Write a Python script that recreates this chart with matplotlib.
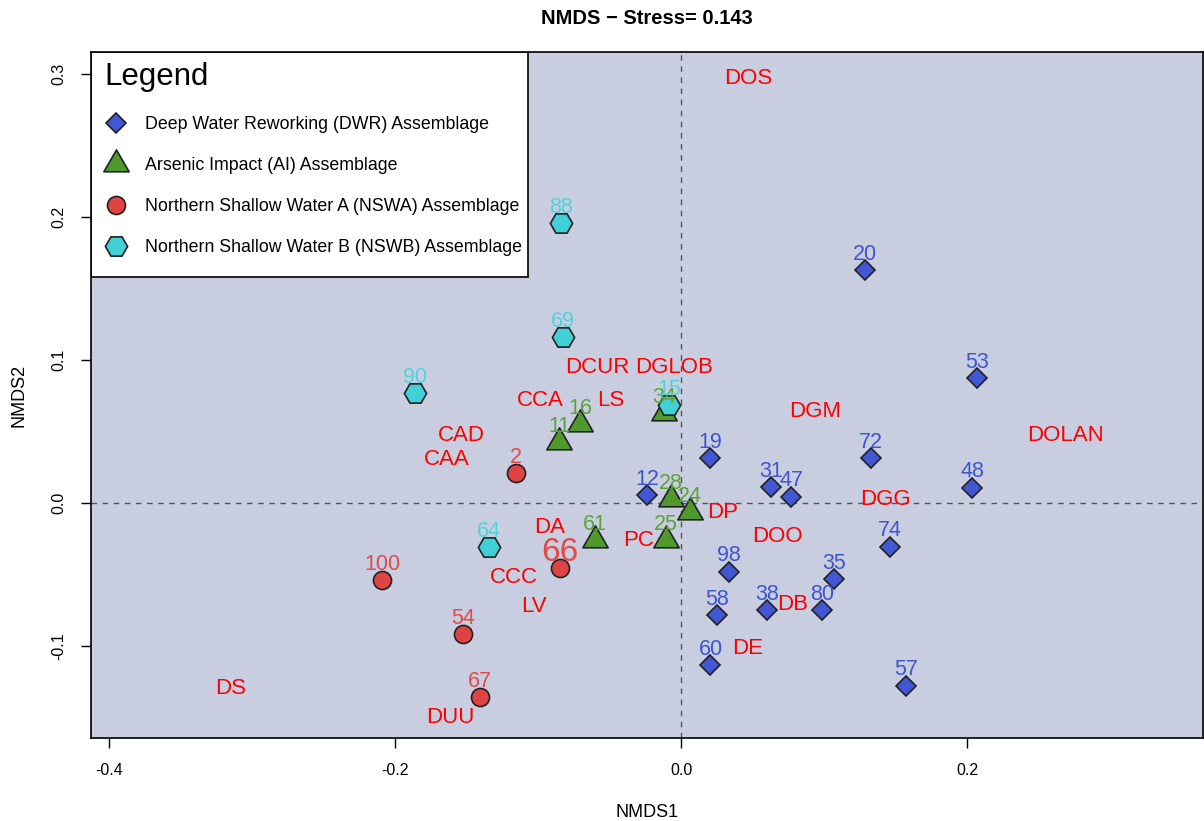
import numpy as np
import matplotlib
matplotlib.use("Agg")
import matplotlib.pyplot as plt
from matplotlib.path import Path
from matplotlib.lines import Line2D
from matplotlib.patches import Rectangle

plt.rcParams["font.family"] = ["Liberation Sans", "DejaVu Sans"]

# Site scores (NMDS1, NMDS2) per assemblage
dwr_ids = ["20", "53", "19", "72", "48", "12", "31", "47", "74", "98", "35", "38", "80", "58", "60", "57"]
dwr_x = [0.1287, 0.2070, 0.0206, 0.1330, 0.2035, -0.0238, 0.0627, 0.0769, 0.1462, 0.0336, 0.1072, 0.0604, 0.0984, 0.0250, 0.0206, 0.1571]
dwr_y = [0.1629, 0.0874, 0.0312, 0.0312, 0.0107, 0.0056, 0.0109, 0.0044, -0.0305, -0.0481, -0.0531, -0.0748, -0.0748, -0.0783, -0.1133, -0.1277]

ai_ids = ["11", "16", "34", "28", "24", "25", "61"]
ai_x = [-0.0853, -0.0706, -0.0119, -0.0070, 0.0063, -0.0105, -0.0601]
ai_y = [0.0427, 0.0552, 0.0629, 0.0028, -0.0063, -0.0259, -0.0259]

nswa_ids = ["2", "66", "100", "54", "67"]
nswa_x = [-0.1154, -0.0846, -0.2091, -0.1524, -0.1406]
nswa_y = [0.0210, -0.0455, -0.0538, -0.0916, -0.1357]

nswb_ids = ["88", "69", "90", "15", "64"]
nswb_x = [-0.0839, -0.0825, -0.1860, -0.0084, -0.1343]
nswb_y = [0.1958, 0.1161, 0.0769, 0.0685, -0.0308]

# Species scores
species = ["DOS", "DCUR", "DGLOB", "CCA", "LS", "DGM", "DOLAN", "CAD", "CAA", "DGG",
           "DP", "DA", "PC", "DOO", "CCC", "LV", "DB", "DE", "DS", "DUU"]
species_x = [0.0469, -0.0587, -0.0049, -0.0986, -0.0490, 0.0937, 0.2685, -0.1538, -0.1636, 0.1427,
             0.0294, -0.0916, -0.0294, 0.0671, -0.1168, -0.1028, 0.0782, 0.0465, -0.3147, -0.1615]
species_y = [0.2972, 0.0951, 0.0951, 0.0720, 0.0720, 0.0643, 0.0469, 0.0469, 0.0301, 0.0025,
             -0.0068, -0.0168, -0.0259, -0.0235, -0.0524, -0.0720, -0.0706, -0.1016, -0.1294, -0.1503]

stress = 0.143

tri = Path([(0, 0.577), (-0.5, -0.289), (0.5, -0.289), (0, 0.577)],
           [Path.MOVETO, Path.LINETO, Path.LINETO, Path.CLOSEPOLY])

groups = [
    ("Deep Water Reworking (DWR) Assemblage", dwr_ids, dwr_x, dwr_y, "D", 9.7, "#4157d3", "#3f55d0"),
    ("Arsenic Impact (AI) Assemblage", ai_ids, ai_x, ai_y, tri, 21, "#4f9a2b", "#5aa33a"),
    ("Northern Shallow Water A (NSWA) Assemblage", nswa_ids, nswa_x, nswa_y, "o", 13, "#e04343", "#e04a4a"),
    ("Northern Shallow Water B (NSWB) Assemblage", nswb_ids, nswb_x, nswb_y, "H", 16, "#40d0d6", "#4fd3db"),
]

fig = plt.figure(figsize=(12.04, 8.21), dpi=100)
ax = fig.add_axes([91 / 1204, 1 - 738 / 821, 1112 / 1204, 686 / 821])
ax.set_facecolor("#c8cedf")

ax.axhline(0, color="#555555", lw=1, ls=(0, (4, 4)), zorder=1)
ax.axvline(0, color="#555555", lw=1, ls=(0, (4, 4)), zorder=1)

# Species names
for name, sx, sy in zip(species, species_x, species_y):
    ax.text(sx, sy, name, color="#ff0000", fontsize=16, ha="center", va="center", zorder=2)

handles = []
for label, ids, xs, ys, mk, ms, fill, tcol in groups:
    ax.plot(xs, ys, ls="none", marker=mk, markersize=ms, markerfacecolor=fill,
            markeredgecolor="#222222", markeredgewidth=1.2, zorder=3)
    for sid, px, py in zip(ids, xs, ys):
        fs = 24 if sid == "66" else 15.5
        off = 11 if sid == "66" else 11.5
        ax.annotate(sid, (px, py), xytext=(0, off), textcoords="offset points",
                    ha="center", va="center", color=tcol, fontsize=fs, zorder=4)
    handles.append(Line2D([], [], ls="none", marker=mk, markersize=ms,
                          markerfacecolor=fill, markeredgecolor="#222222",
                          markeredgewidth=1.2, label=label))

# legend box drawn separately so its size can match the original
ax.add_patch(Rectangle((0, 0.672), 0.393, 0.328, transform=ax.transAxes,
                       facecolor="white", edgecolor="black", lw=1.2, zorder=5))
leg = ax.legend(handles=handles, loc="upper left", bbox_to_anchor=(0.0032, 1.0),
                borderaxespad=0, title="Legend", title_fontsize=22.5, fontsize=12.8,
                alignment="left", frameon=False, handlelength=1.3, handletextpad=1.0,
                labelspacing=1.35, borderpad=0.55)
leg.set_zorder(6)

ax.set_xlim(-0.4126, 0.3650)
ax.set_ylim(-0.1643, 0.3154)
ax.set_xticks([-0.4, -0.2, 0.0, 0.2])
ax.set_xticklabels(["-0.4", "-0.2", "0.0", "0.2"])
ax.set_yticks([-0.1, 0.0, 0.1, 0.2, 0.3])
ax.set_yticklabels(["-0.1", "0.0", "0.1", "0.2", "0.3"], rotation=90, va="center")
ax.tick_params(direction="out", length=7, width=1, labelsize=11.5, pad=11)
for sp in ax.spines.values():
    sp.set_linewidth(1.2)
    sp.set_zorder(7)

ax.set_xlabel("NMDS1", fontsize=13, labelpad=19)
ax.set_ylabel("NMDS2", fontsize=13, labelpad=17)
ax.set_title(f"NMDS \u2212 Stress= {stress}", fontsize=14.5, fontweight="bold", pad=20)

fig.savefig("out.png", dpi=100)
